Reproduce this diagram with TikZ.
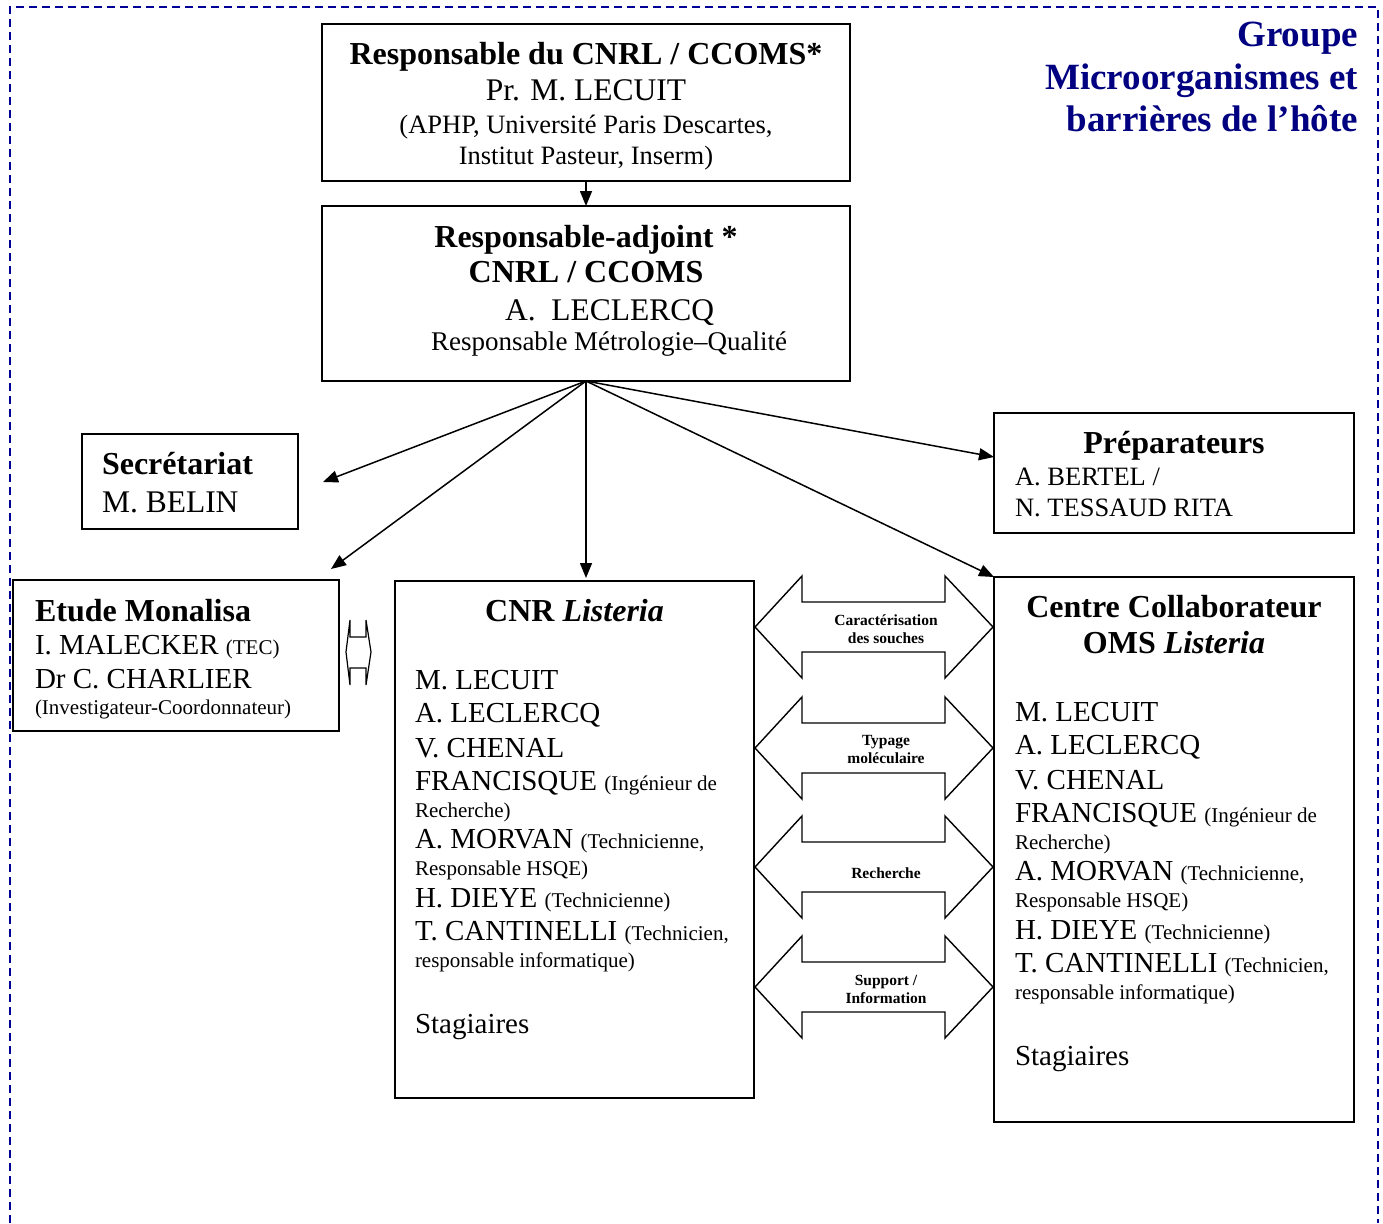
\documentclass[tikz,border=0pt]{standalone}
\usepackage{fontspec}
\setmainfont{Liberation Serif}
\usetikzlibrary{arrows.meta}
\definecolor{navyb}{RGB}{0,0,150}
\definecolor{navyt}{RGB}{0,0,128}
\newcommand\szT{\fontsize{32}{36}\selectfont\bfseries}
\newcommand\szNb{\fontsize{31.5}{35}\selectfont}
\newcommand\szN{\fontsize{29}{33}\selectfont}
\newcommand\szS{\fontsize{26.5}{30}\selectfont}
\newcommand\szSb{\fontsize{27}{30}\selectfont}
\newcommand\szP{\fontsize{21}{25}\selectfont}
\newcommand\szA{\fontsize{15.5}{19}\selectfont\bfseries}
\newcommand\szG{\fontsize{37}{42}\selectfont\bfseries}
\newcommand\members[3]{%
  \node[txt,anchor=base west,font=\szN] (#1m1) at (#2,#3) {M. LECUIT};
  \node[txt,anchor=base west,font=\szN] (#1m2) at (#2,#3+33.5) {A. LECLERCQ};
  \node[txt,anchor=base west,font=\szN] (#1m3) at (#2,#3+68) {V. CHENAL};
  \node[txt,anchor=base west,font=\szN] (#1m4) at (#2,#3+101) {FRANCISQUE {\szP (Ingénieur de}};
  \node[txt,anchor=base west,font=\szP] (#1m5) at (#2,#3+128) {Recherche)};
  \node[txt,anchor=base west,font=\szN] (#1m6) at (#2,#3+159.5) {A. MORVAN {\szP (Technicienne,}};
  \node[txt,anchor=base west,font=\szP] (#1m7) at (#2,#3+186.5) {Responsable HSQE)};
  \node[txt,anchor=base west,font=\szN] (#1m8) at (#2,#3+218) {H. DIEYE {\szP (Technicienne)}};
  \node[txt,anchor=base west,font=\szN] (#1m9) at (#2,#3+251.5) {T. CANTINELLI {\szP (Technicien,}};
  \node[txt,anchor=base west,font=\szP] (#1m10) at (#2,#3+278) {responsable informatique)};
  \node[txt,anchor=base west,font=\szN] (#1m11) at (#2,#3+344) {Stagiaires};
}
\begin{document}
\begin{tikzpicture}[x=1pt,y=-1pt,
  box/.style={draw,line width=1.5pt,anchor=north west,inner sep=0pt,outer sep=0pt},
  txt/.style={inner sep=0pt,outer sep=0pt},
  con/.style={line width=1.5pt,-{Triangle[length=15pt,width=12pt]}},
  dbl/.style={draw,line width=1.4pt,line join=miter}]
\useasboundingbox (0,0) rectangle (1383,1223);

% dashed frame
\draw[navyb,line width=1.5pt,dash pattern=on 8pt off 5pt] (10,1223) -- (10,7) -- (1378,7) -- (1378,1223);

% group title
\node[txt,anchor=base east,font=\szG,text=navyt] (g1) at (1358,47) {Groupe};
\node[txt,anchor=base east,font=\szG,text=navyt] (g2) at (1358,89) {Microorganismes et};
\node[txt,anchor=base east,font=\szG,text=navyt] (g3) at (1358,131) {barrières de l’hôte};

% boxes
\node[box,minimum width=528pt,minimum height=157pt] (b1) at (322,24) {};
\node[box,minimum width=528pt,minimum height=175pt] (b2) at (322,206) {};
\node[box,minimum width=216pt,minimum height=95pt] (sec) at (82,434) {};
\node[box,minimum width=326pt,minimum height=151pt] (etu) at (13,580) {};
\node[box,minimum width=359pt,minimum height=517pt] (cnr) at (395,581) {};
\node[box,minimum width=360pt,minimum height=120pt] (prep) at (994,413) {};
\node[box,minimum width=360pt,minimum height=545pt] (cc) at (994,577) {};

% box 1 text
\node[txt,anchor=base,font=\szT] (b1t1) at (586,64) {Responsable du CNRL / CCOMS*};
\node[txt,anchor=base,font=\szNb] (b1t2) at (586,100) {Pr. M. LECUIT};
\node[txt,anchor=base,font=\szS] (b1t3) at (586,133) {(APHP, Université Paris Descartes,};
\node[txt,anchor=base,font=\szS] (b1t4) at (586,164) {Institut Pasteur, Inserm)};

% box 2 text
\node[txt,anchor=base,font=\szT] (b2t1) at (586,247) {Responsable-adjoint *};
\node[txt,anchor=base,font=\szT] (b2t2) at (586,282) {CNRL / CCOMS};
\node[txt,anchor=base west,font=\szNb] (b2t3) at (505,320) {A.\ \ LECLERCQ};
\node[txt,anchor=base west,font=\szSb] (b2t4) at (431,350) {Responsable Métrologie–Qualité};

% secretariat
\node[txt,anchor=base west,font=\szT] (sect1) at (102,474) {Secrétariat};
\node[txt,anchor=base west,font=\szNb] (sect2) at (102,512) {M. BELIN};

% etude
\node[txt,anchor=base west,font=\szT] (etut1) at (35,621) {Etude Monalisa};
\node[txt,anchor=base west,font=\szN] (etut2) at (35,654) {I. MALECKER {\szP (TEC)}};
\node[txt,anchor=base west,font=\szN] (etut3) at (35,688) {Dr C. CHARLIER};
\node[txt,anchor=base west,font=\szP] (etut4) at (35,714) {(Investigateur-Coordonnateur)};

% preparateurs
\node[txt,anchor=base,font=\szT] (prept1) at (1174,453) {Préparateurs};
\node[txt,anchor=base west,font=\szS] (prept2) at (1015,485) {A. BERTEL /};
\node[txt,anchor=base west,font=\szS] (prept3) at (1015,516) {N. TESSAUD RITA};

% CNR
\node[txt,anchor=base,font=\szT] (cnrt) at (574.5,621) {CNR \textit{Listeria}};
\members{cnr}{415}{689}

% Centre collaborateur
\node[txt,anchor=base,font=\szT] (cct1) at (1174,617) {Centre Collaborateur};
\node[txt,anchor=base,font=\szT] (cct2) at (1174,653) {OMS \textit{Listeria}};
\members{cc}{1015}{721}

% connectors
\coordinate (secT) at (323,482);
\coordinate (etuT) at (331,569);
\coordinate (cnrT) at (586,578);
\coordinate (prepT) at (994,457);
\draw[con] (b1.south) -- (b2.north);
\draw[con] (b2.south) -- (secT);
\draw[con] (b2.south) -- (etuT);
\draw[con] (b2.south) -- (cnrT);
\draw[con] (b2.south) -- (prepT);
\draw[con] (b2.south) -- (cc.north west);

% double arrows
\foreach \cy in {627,748,867,987} {
  \draw[dbl] (755,\cy) -- (802,\cy-51) -- (802,\cy-25) -- (945,\cy-25) -- (945,\cy-51)
    -- (993,\cy) -- (945,\cy+51) -- (945,\cy+25) -- (802,\cy+25) -- (802,\cy+51) -- cycle;
}
\node[txt,anchor=base,font=\szA] (l1a) at (886,625) {Caractérisation};
\node[txt,anchor=base,font=\szA] (l1b) at (886,643) {des souches};
\node[txt,anchor=base,font=\szA] (l2a) at (886,745) {Typage};
\node[txt,anchor=base,font=\szA] (l2b) at (886,763) {moléculaire};
\node[txt,anchor=base,font=\szA] (l3) at (886,878) {Recherche};
\node[txt,anchor=base,font=\szA] (l4a) at (886,985) {Support /};
\node[txt,anchor=base,font=\szA] (l4b) at (886,1003) {Information};

% small double arrow
\draw[line width=1.2pt,line join=miter] (346,652) -- (350,620) -- (350,637) -- (366,637) -- (366,620)
  -- (371,652) -- (366,685) -- (366,668) -- (350,668) -- (350,685) -- cycle;
\end{tikzpicture}
\end{document}
